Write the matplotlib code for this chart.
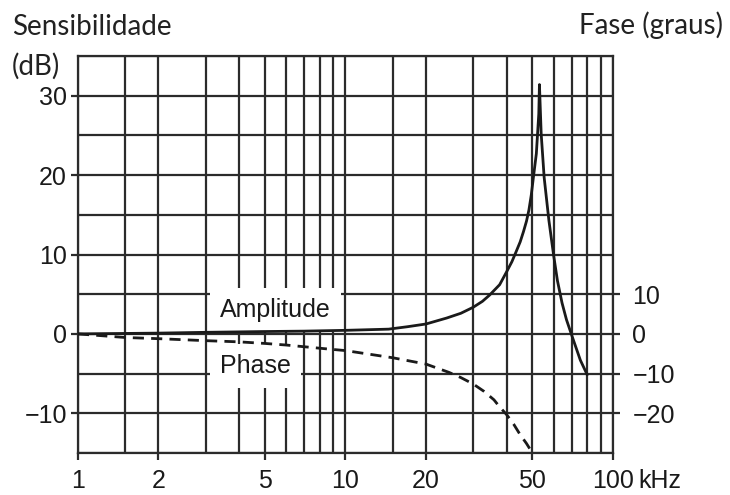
import numpy as np
import matplotlib
matplotlib.use("Agg")
import matplotlib.pyplot as plt

# amplitude curve (kHz, dB)
amp_freq = [1, 2, 3, 5, 7, 10, 14.5, 17, 20, 23.9, 27, 30, 32.5, 34.6, 37.7, 40, 41.9, 43.5,
            45, 46.3, 47.5, 48.5, 49.5, 50.4, 51.7, 52.8, 53.1, 53.9, 55.3, 57.6, 60, 62, 64.5,
            67, 70, 75.5, 80]
amp_db = [0, 0.1, 0.2, 0.3, 0.35, 0.45, 0.6, 0.9, 1.25, 2.0, 2.6, 3.35, 4.1, 4.9, 6.2, 7.8, 9.1, 10.4,
          11.6, 12.9, 14.2, 15.6, 17.5, 19.7, 22.7, 27.7, 31.4, 25.2, 19.7, 14.3, 9.9, 6.7, 3.9,
          1.8, -0.1, -3.3, -5.1]

# phase curve (kHz, degrees)
ph_freq = [1, 1.5, 2, 3, 4, 5, 6, 8.6, 10, 15, 20, 24.4, 27, 30, 33, 35.9, 37.5, 40, 42.5,
           44.9, 47.5, 50]
ph_deg = [0, -0.9, -1.2, -1.7, -2.0, -2.4, -2.8, -3.8, -4.2, -6.0, -7.6, -9.7, -11, -12.6, -14.5,
          -16.6, -18.2, -20.3, -22.7, -25.3, -27.6, -30]

x_ticks = [1, 2, 5, 10, 20, 50, 100]
x_labels = ["1", "2", "5", "10", "20", "50", "100"]
y_ticks = [30, 20, 10, 0, -10]
y_labels = ["30", "20", "10", "0", "\u221210"]
ph_ticks = [10, 0, -10, -20]
ph_labels = ["10", "0", "\u221210", "\u221220"]

grid_x = [1, 1.5, 2, 3, 4, 5, 6, 7, 8, 9, 10, 15, 20, 30, 40, 50, 60, 70, 80, 90, 100]
grid_y = np.arange(-15, 36, 5)

ink = "#2b2b2b"
plt.rcParams['font.family'] = ['Liberation Sans', 'DejaVu Sans']

fig = plt.figure(figsize=(7.3, 4.95), dpi=100)
ax = fig.add_axes([0.1068, 0.0848, 0.7329, 0.8021])
ax.set_xscale('log')
ax.set_xlim(1, 100)
ax.set_ylim(-15, 35)

for gx in grid_x:
    ax.axvline(gx, color=ink, lw=1.6, zorder=1)
for gy in grid_y:
    ax.axhline(gy, color=ink, lw=1.6, zorder=1)

ax.plot(amp_freq, amp_db, color="#1a1a1a", lw=2.0, zorder=4)

ax.set_xticks(x_ticks)
ax.set_xticklabels(x_labels)
ax.xaxis.set_minor_locator(matplotlib.ticker.NullLocator())
ax.set_yticks(y_ticks)
ax.set_yticklabels(y_labels)
ax.tick_params(axis='both', direction='out', length=5, width=1.6, color=ink,
               labelsize=18, labelcolor="#1a1a1a")
ax.tick_params(axis='x', pad=6.5)
ax.tick_params(axis='y', pad=3)
for s in ax.spines.values():
    s.set_color(ink)
    s.set_linewidth(1.6)

ax2 = ax.twinx()
ax2.set_ylim(-30, 70)
ax2.set_xlim(1, 100)
ax2.plot(ph_freq, ph_deg, color="#1a1a1a", lw=2.0, dashes=(4, 2.6), zorder=4)
ax2.set_yticks(ph_ticks)
ax2.set_yticklabels(ph_labels)
ax2.tick_params(axis='y', direction='out', length=5, width=1.6, color=ink,
                labelsize=18, labelcolor="#1a1a1a", pad=9)
for s in ax2.spines.values():
    s.set_visible(False)

box = dict(facecolor='white', edgecolor='none', boxstyle='square,pad=0.4')
ax.text(3.4, 3.0, "Amplitude", fontsize=18, color="#1a1a1a", ha='left', va='center',
        bbox=box, zorder=3)
ax.text(3.4, -4.0, "Phase", fontsize=18, color="#1a1a1a", ha='left', va='center',
        bbox=box, zorder=3)

ax.annotate("kHz", xy=(1, 0), xycoords='axes fraction', xytext=(18, -11.5),
            textcoords='offset points', fontsize=18, color="#1a1a1a", ha='left', va='top')

tfont = ['Lato', 'DejaVu Sans']
fig.text(12 / 730, 1 - 27 / 495, "Sensibilidade", family=tfont, fontsize=20,
         color="#222222", ha='left', va='center')
fig.text(12 / 730, 1 - 66 / 495, "(dB)", family=tfont, fontsize=20,
         color="#222222", ha='left', va='center')
fig.text(723 / 730, 1 - 25 / 495, "Fase (graus)", family=tfont, fontsize=20,
         color="#222222", ha='right', va='center')

fig.savefig("out.png", dpi=100)
